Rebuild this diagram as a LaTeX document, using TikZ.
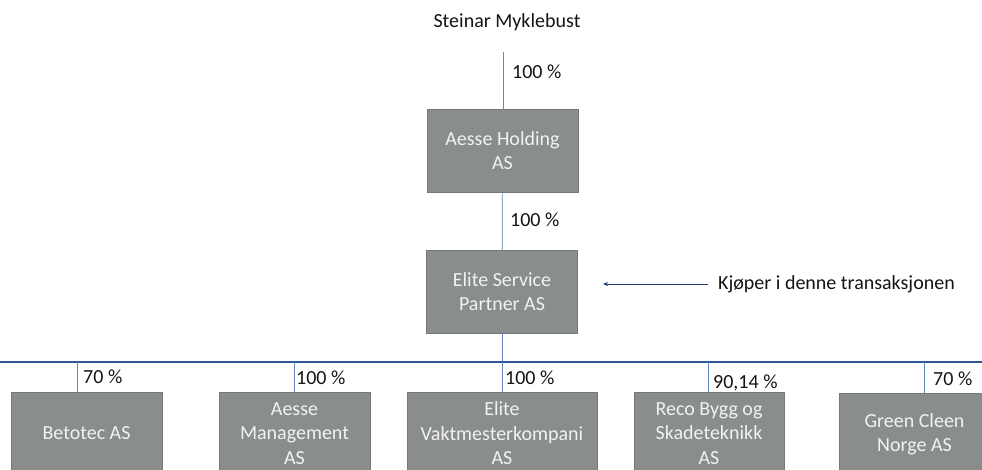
\documentclass[tikz,border=0pt]{standalone}
\usepackage{fontspec}
\setmainfont{Carlito}
\usetikzlibrary{arrows.meta}
\definecolor{boxgray}{RGB}{137,142,141}
\definecolor{boxtext}{RGB}{242,242,242}
\definecolor{inkblack}{RGB}{20,20,20}
\definecolor{lineblue}{RGB}{95,135,195}
\definecolor{busblue}{RGB}{47,85,151}
\definecolor{arrowblue}{RGB}{31,60,110}
\begin{document}
\begin{tikzpicture}
    [
        x=1pt, y=-1pt,
        company/.style={rectangle, fill=boxgray, draw=boxgray!85!black, line width=0.3pt,
            minimum width=151pt, minimum height=83pt, inner sep=0pt,
            text=boxtext, align=center, font=\fontsize{20}{24.5}\selectfont},
        share/.style={anchor=west, inner sep=0pt, text=inkblack, font=\fontsize{20}{24}\selectfont},
        owner/.style={draw=lineblue, line width=0.7pt},
        bus/.style={draw=busblue, line width=1.6pt},
        edge/.style={-{Stealth[length=5pt,width=4pt]}, draw=arrowblue, line width=0.8pt},
    ]

    \useasboundingbox (0,0) rectangle (982,470);

    % ownership chart
    \node (steinar) at (507,22)     [share, anchor=center] {Steinar Myklebust};
    \node (holding) at (502.5,150.5) [company] {Aesse Holding\\AS};
    \node (esp)     at (502,291.5)   [company] {Elite Service\\Partner AS};
    \node (buyer)   at (718,284)     [share] {Kjøper i denne transaksjonen};

    \node (beto)  at (86.5,433.5)  [company] {Betotec AS};
    \node (amgmt) at (294.5,433.5) [company] {Aesse\\Management\\AS};
    \node (evk)   at (502,433.5)   [company, minimum width=190pt] {Elite\\Vaktmesterkompani\\AS};
    \node (reco)  at (709,433.5)   [company, minimum width=150pt] {Reco Bygg og\\Skadeteknikk\\AS};
    \node (green) at (914.5,434.5) [company] {Green Cleen\\Norge AS};

    \node (p0) at (512,72)  [share] {100 \%};
    \node (p1) at (510,220) [share] {100 \%};
    \node (p2) at (83,377)  [share] {70 \%};
    \node (p3) at (296,378) [share] {100 \%};
    \node (p4) at (505,378) [share] {100 \%};
    \node (p5) at (713,383) [share] {90,14 \%};
    \node (p6) at (933,379) [share] {70 \%};

    \coordinate (top)  at (503,52);
    \coordinate (tip)  at (603,284);
    \coordinate (busl) at (0,362);
    \coordinate (busr) at (982,362);
    \coordinate (d1) at (77,362);
    \coordinate (d2) at (294,362);
    \coordinate (d3) at (502,362);
    \coordinate (d4) at (708,362);
    \coordinate (d5) at (924,362);

    \draw [owner] (top) -- (top |- holding.north);
    \draw [owner] (holding) -- (esp);
    \draw [owner] (esp.south) -- (esp.south |- busl);
    \draw [bus] (busl) -- (busr);
    \draw [owner] (d1) -- (d1 |- beto.north);
    \draw [owner] (d2) -- (d2 |- amgmt.north);
    \draw [owner] (d3) -- (d3 |- evk.north);
    \draw [owner] (d4) -- (d4 |- reco.north);
    \draw [owner] (d5) -- (d5 |- green.north);

    \draw [edge, shorten <=10pt] (buyer.west) -- (tip);

\end{tikzpicture}
\end{document}
